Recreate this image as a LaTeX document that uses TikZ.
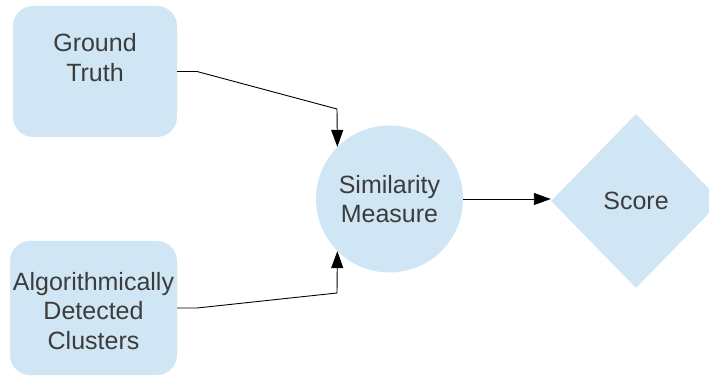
\documentclass[tikz,border=0pt]{standalone}
\usepackage{fontspec}
\setmainfont{Liberation Sans}
\usetikzlibrary{shapes.geometric, arrows.meta}
\definecolor{boxblue}{RGB}{208,230,244}
\definecolor{textgray}{RGB}{60,60,60}

\begin{document}
\begin{tikzpicture}[x=1pt, y=1pt,
  every node/.style={font=\fontsize{25}{29.5}\selectfont, text=textgray, align=center},
  inputbox/.style={draw=none, fill=boxblue, rounded corners=20pt, inner sep=0pt},
  simcircle/.style={circle, fill=boxblue, minimum size=147pt, inner sep=0pt},
  scorediamond/.style={diamond, fill=boxblue, minimum width=170pt, minimum height=174pt, inner sep=0pt},
  link/.style={line width=0.9pt, black},
  linkarrow/.style={link, -{Triangle[length=17pt, width=12pt]}}]

% Frame
\useasboundingbox (0,0) rectangle (709,375);
\clip (0,0) rectangle (709,375);

% Ground Truth
\node[inputbox, minimum width=164pt, minimum height=131pt,
  label={[yshift=14pt, align=center]center:Ground\\Truth}] (gt) at (95, 303.5) {};

% Algorithmically Detected Clusters
\node[inputbox, minimum width=167pt, minimum height=134pt,
  label={[yshift=-3pt, align=center]center:Algorithmically\\Detected\\Clusters}] (adc) at (93.5, 67) {};

% Similarity Measure
\node[simcircle] (sim) at (389.5, 176) {Similarity\\Measure};

% Score
\node[scorediamond] (score) at (636, 174) {Score};

% Ground Truth into Similarity Measure
\coordinate (gtout) at (197, 303.5);
\coordinate (gtbend) at (337, 266);
\draw[linkarrow] (gt.east) -- (gtout) -- (gtbend) -- (sim.135);

% Detected Clusters into Similarity Measure
\coordinate (adcout) at (197, 67);
\coordinate (adcbend) at (337, 82);
\draw[linkarrow] (adc.east) -- (adcout) -- (adcbend) -- (sim.225);

% Similarity Measure into Score
\draw[linkarrow] (sim.east) -- (sim.east -| score.west);

\end{tikzpicture}
\end{document}
